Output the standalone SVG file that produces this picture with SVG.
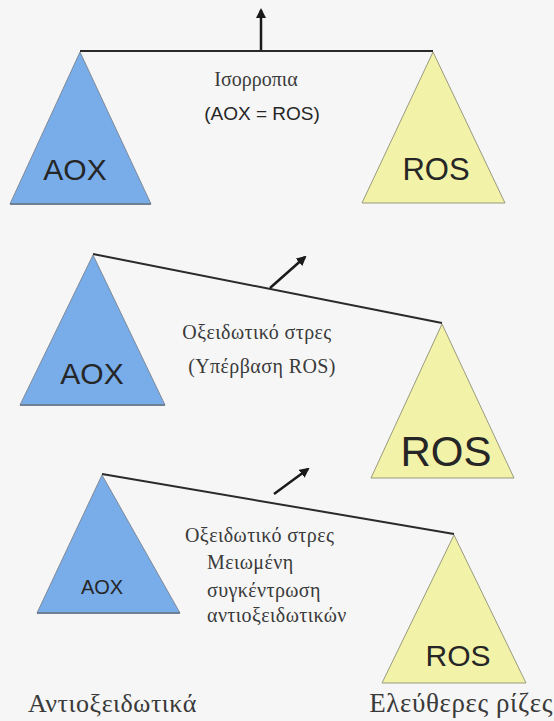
<svg xmlns="http://www.w3.org/2000/svg" width="554" height="721" viewBox="0 0 554 721">
<defs>
<marker id="ah" viewBox="0 0 10 10" refX="8" refY="5" markerWidth="4" markerHeight="4" orient="auto-start-reverse" markerUnits="strokeWidth">
<path d="M0,0 L10,5 L0,10 z" fill="#1a1a1a"/>
</marker>
</defs>
<style>
.bg{fill:#f6f6f6}
.aox{fill:#78adea;stroke:#7f8a99;stroke-width:1}
.ros{fill:#f2f2a8;stroke:#9a9a80;stroke-width:1}
.base{stroke:#6f7f94;stroke-width:2}
.beam{stroke:#2a2a2a;stroke-width:2;fill:none}
.arr{stroke:#1a1a1a;stroke-width:2.5;fill:none;marker-end:url(#ah)}
.sans{font-family:"Liberation Sans",Arial,sans-serif;fill:#262626}
.serif{font-family:"Liberation Serif","Times New Roman",serif;fill:#3a3a3a}
.lbl{font-size:20px;letter-spacing:0.4px}
</style>
<rect class="bg" x="0" y="0" width="554" height="721"/>

<g id="connectors">
<line class="beam" x1="80" y1="51" x2="433" y2="51"/>
<line class="arr" x1="261" y1="50" x2="261" y2="10"/>
<line class="beam" x1="93" y1="254" x2="442" y2="323"/>
<line class="arr" x1="270" y1="288" x2="305" y2="257"/>
<line class="beam" x1="102" y1="474" x2="454" y2="534"/>
<line class="arr" x1="274" y1="494" x2="308" y2="469"/>
</g>

<g id="aox1">
<polygon class="aox" points="80,52 10,204 151,204"/>
<line class="base" x1="10" y1="204" x2="151" y2="204"/>
<text class="sans" x="75" y="180" font-size="30" text-anchor="middle">AOX</text>
</g>
<g id="ros1">
<polygon class="ros" points="433,52 362,203 505,203"/>
<text class="sans" x="436" y="180" font-size="31" text-anchor="middle">ROS</text>
</g>
<g id="label1">
<text class="serif" x="256" y="86" font-size="20" text-anchor="middle">Ισορροπια</text>
<text class="sans" x="262" y="120" font-size="19" text-anchor="middle">(AOX = ROS)</text>
</g>

<g id="aox2">
<polygon class="aox" points="93,255 20,405 165,405"/>
<line class="base" x1="20" y1="405" x2="165" y2="405"/>
<text class="sans" x="92" y="384" font-size="30" text-anchor="middle">AOX</text>
</g>
<g id="ros2">
<polygon class="ros" points="442,324 371,478 514,478"/>
<text class="sans" x="446" y="466" font-size="42" text-anchor="middle">ROS</text>
</g>
<g id="label2">
<text class="serif lbl" x="257" y="339" text-anchor="middle">Οξειδωτικό στρες</text>
<text class="serif lbl" x="262" y="373" text-anchor="middle">(Υπέρβαση ROS)</text>
</g>

<g id="aox3">
<polygon class="aox" points="102,475 37,613 180,613"/>
<line class="base" x1="37" y1="613" x2="180" y2="613"/>
<text class="sans" x="102" y="594" font-size="20" text-anchor="middle">AOX</text>
</g>
<g id="ros3">
<polygon class="ros" points="454,535 382,683 526,683"/>
<text class="sans" x="458" y="666" font-size="30" text-anchor="middle">ROS</text>
</g>
<g id="label3">
<text class="serif lbl" x="185" y="542">Οξειδωτικό στρες</text>
<text class="serif lbl" x="207" y="569">Μειωμένη</text>
<text class="serif lbl" x="207" y="597">συγκέντρωση</text>
<text class="serif lbl" x="207" y="622">αντιοξειδωτικών</text>
</g>

<g id="captions">
<text class="serif" x="28" y="712" font-size="26" letter-spacing="0.5">Αντιοξειδωτικά</text>
<text class="serif" x="553" y="712" font-size="27" letter-spacing="0.6" text-anchor="end">Ελεύθερες ρίζες</text>
</g>
</svg>
